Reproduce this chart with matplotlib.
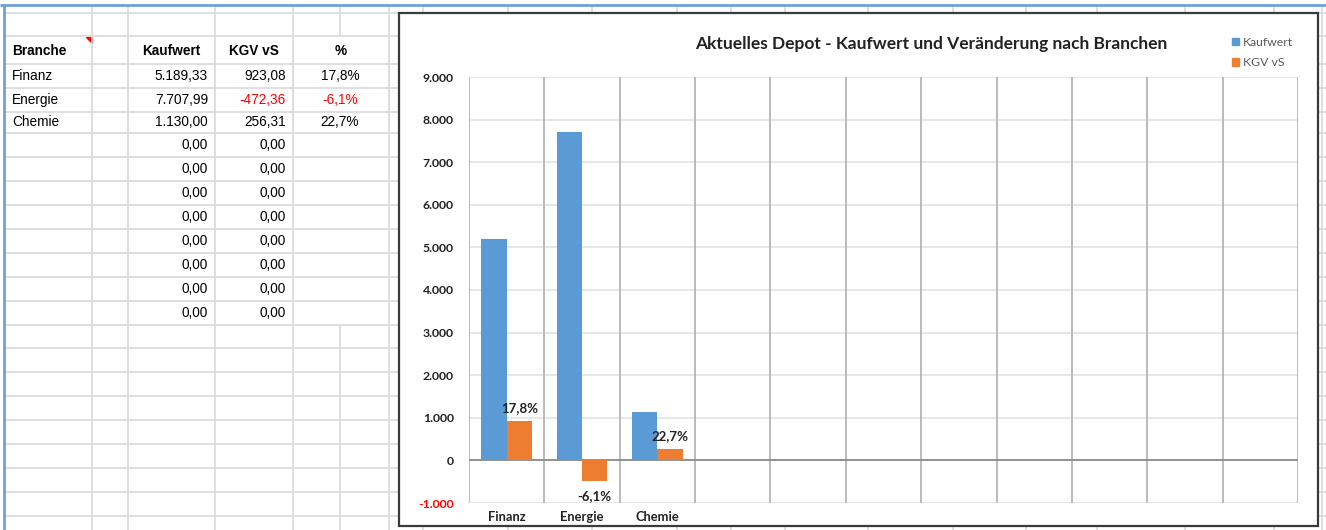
import matplotlib
matplotlib.use("Agg")
import matplotlib.pyplot as plt
from matplotlib.patches import Rectangle, Patch
from matplotlib.ticker import FuncFormatter

W, H = 1326, 530

# Daten aus der Tabelle
branchen = ["Finanz", "Energie", "Chemie", "", "", "", "", "", "", "", ""]
kaufwert = [5189.33, 7707.99, 1130.00, 0, 0, 0, 0, 0, 0, 0, 0]
kgv_vs = [923.08, -472.36, 256.31, 0, 0, 0, 0, 0, 0, 0, 0]
prozent = [17.8, -6.1, 22.7]
y_ticks = [-1000, 0, 1000, 2000, 3000, 4000, 5000, 6000, 7000, 8000, 9000]

BLUE = "#5B9BD5"
ORANGE = "#ED7D31"
GRID = "#d9d9d9"


def de(v, nd=2):
    "German number format"
    s = f"{v:,.{nd}f}"
    return s.replace(",", "#").replace(".", ",").replace("#", ".")


def fx(x):
    return x / W


def fy(y):
    return 1 - y / H


fig = plt.figure(figsize=(W / 100, H / 100), dpi=100)
fig.patch.set_facecolor("white")

# spreadsheet background in pixel coordinates
bg = fig.add_axes([0, 0, 1, 1], zorder=0)
bg.set_xlim(0, W)
bg.set_ylim(H, 0)
bg.axis("off")

row_lines = [13, 36, 64, 88, 112, 133, 157, 181, 205, 229, 253, 277, 301,
             325, 348, 372, 396, 420, 444, 468, 492, 516]
col_lines = [92, 128, 215, 293, 389, 423, 508, 592, 677, 731, 785, 868,
             953, 1026, 1097, 1185, 1274, 1322]
bg.hlines(row_lines, 4, W, color=GRID, lw=1.2)
bg.vlines(col_lines, 5, H, color=GRID, lw=1.2)
bg.vlines(340, 5, 36, color=GRID, lw=1.2)
bg.vlines(340, 325, H, color=GRID, lw=1.2)
bg.hlines(5, 0, W, color="#6fa0d8", lw=2)
bg.vlines(4, 5, H, color="#6fa0d8", lw=2)

tfont = dict(family="Liberation Sans", fontsize=9.8, va="center")
hy = (row_lines[1] + row_lines[2]) / 2 + 1
bg.text(12, hy, "Branche", ha="left", weight="bold", **tfont)
bg.text(171, hy, "Kaufwert", ha="center", weight="bold", **tfont)
bg.text(254, hy, "KGV vS", ha="center", weight="bold", **tfont)
bg.text(341, hy, "%", ha="center", weight="bold", **tfont)
bg.add_patch(plt.Polygon([[86, 37], [92, 37], [92, 43]], color="red"))

for i, name in enumerate(branchen):
    yc = (row_lines[2 + i] + row_lines[3 + i]) / 2
    col = "red" if kgv_vs[i] < 0 else "black"
    if name:
        bg.text(12, yc, name, ha="left", **tfont)
    bg.text(208, yc, de(kaufwert[i]), ha="right", **tfont)
    bg.text(286, yc, de(kgv_vs[i]), ha="right", color=col, **tfont)
    if i < len(prozent):
        bg.text(340, yc, de(prozent[i], 1) + "%", ha="center", color=col,
                **tfont)

# chart frame
bg.add_patch(Rectangle((399, 13), 1318 - 399, 526 - 13, facecolor="white",
                       edgecolor="#3a3a3a", lw=1.6, zorder=3))
bg.text(931, 44, "Aktuelles Depot - Kaufwert und Veränderung nach Branchen",
        ha="center", va="center", family="Lato", weight="bold",
        fontsize=12.5, color="#222222", zorder=4)

# chart
ax = fig.add_axes([fx(469), fy(503), fx(1298 - 469), (503 - 77) / H],
                  zorder=1)
ax.patch.set_alpha(0)
n = len(branchen)
xs = list(range(n))
bw = 0.335
ax.bar([x - bw / 2 for x in xs], kaufwert, bw, color=BLUE, zorder=3,
       label="Kaufwert")
ax.bar([x + bw / 2 for x in xs], kgv_vs, bw, color=ORANGE, zorder=3,
       label="KGV vS")
for i, p in enumerate(prozent):
    v = kgv_vs[i]
    off = 5 if v >= 0 else -7
    ax.annotate(de(p, 1) + "%", (xs[i] + bw / 2, v), xytext=(0, off),
                textcoords="offset points", ha="center",
                va="bottom" if v >= 0 else "top", family="Lato",
                weight="bold", fontsize=9.5, color="#222222")

ax.set_xlim(-0.5, n - 0.5)
ax.set_ylim(y_ticks[0], y_ticks[-1])
ax.set_yticks(y_ticks)
ax.yaxis.set_major_formatter(FuncFormatter(lambda v, _: de(v, 0)))
ax.set_xticks(xs)
ax.set_xticklabels(branchen)
for s in ax.spines.values():
    s.set_visible(False)
ax.tick_params(length=0, labelsize=8.8, pad=11)
ax.tick_params(axis="x", labelsize=9.3, pad=6)
for lab in ax.get_yticklabels() + ax.get_xticklabels():
    lab.set_family("Lato")
    lab.set_weight("bold")
    lab.set_color("#222222")
ax.get_yticklabels()[0].set_color("red")
for t in y_ticks:
    ax.axhline(t, color="#e3e3e3", lw=1.2, zorder=1)
ax.axhline(0, color="#8c8c8c", lw=1.3, zorder=2)
for b in range(n + 1):
    ax.axvline(b - 0.5, color="#b5b5b5", lw=1.3, zorder=1)

handles = [Patch(color=BLUE, label="Kaufwert"),
           Patch(color=ORANGE, label="KGV vS")]
leg = fig.legend(handles=handles, loc="upper left",
                 bbox_to_anchor=(fx(1221), fy(26)), frameon=False,
                 handlelength=0.55, handleheight=0.55, handletextpad=0.35,
                 labelspacing=0.75, prop=dict(family="Lato", size=8.8))
for t in leg.get_texts():
    t.set_color("#595959")
leg.set_zorder(5)

fig.savefig("out.png", dpi=100)
